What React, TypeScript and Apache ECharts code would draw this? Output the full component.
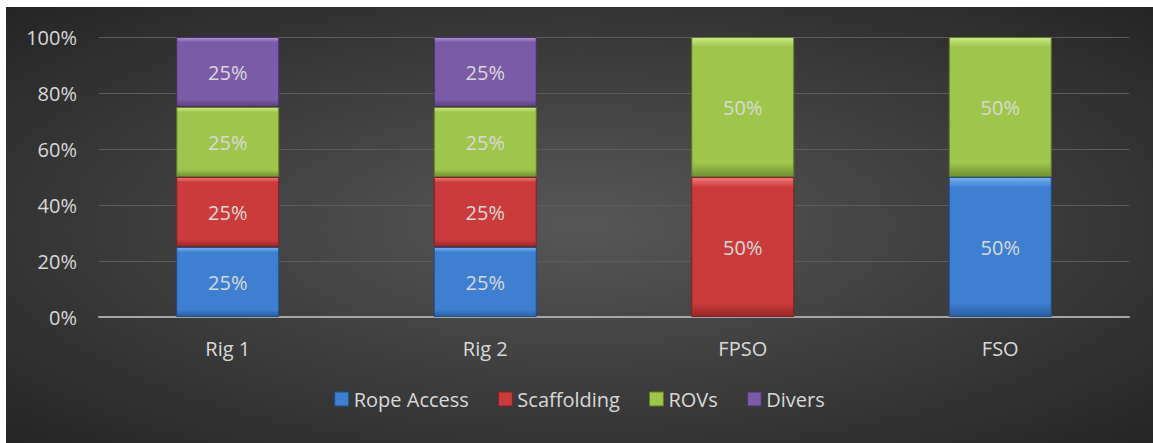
import React, { useEffect, useRef } from "react";
import * as echarts from "echarts";

const categories = ["Rig 1", "Rig 2", "FPSO", "FSO"];
const seriesNames = ["Rope Access", "Scaffolding", "ROVs", "Divers"];
const ropeAccess = [25, 25, 0, 50];
const scaffolding = [25, 25, 50, 0];
const rovs = [25, 25, 50, 50];
const divers = [25, 25, 0, 0];
const yTicks = [0, 20, 40, 60, 80, 100];

const palette = [
  { top: "#7ab2f2", main: "#3d80d2", bottom: "#2b5f9f", border: "#224e86" },
  { top: "#f07c7c", main: "#cc3b3b", bottom: "#982828", border: "#7e2020" },
  { top: "#cdeb88", main: "#9dc64a", bottom: "#729234", border: "#5e7a2a" },
  { top: "#b094d8", main: "#7b5ba8", bottom: "#58407d", border: "#463264" },
];

const FONT = "'Open Sans', 'Liberation Sans', sans-serif";

export default function App() {
  const ref = useRef<HTMLDivElement>(null);
  useEffect(() => {
    if (!ref.current) return;
    const chart = echarts.init(ref.current, undefined, { renderer: "svg" });
    const values = [ropeAccess, scaffolding, rovs, divers];
    const series = seriesNames.map((name, i) => {
      const p = palette[i];
      return {
        name,
        type: "bar",
        stack: "total",
        barWidth: "40%",
        data: values[i].map((v) => (v > 0 ? v : "-")),
        itemStyle: {
          color: new echarts.graphic.LinearGradient(0, 0, 0, 1, [
            { offset: 0, color: p.top },
            { offset: 0.07, color: p.main },
            { offset: 0.9, color: p.main },
            { offset: 1, color: p.bottom },
          ]),
          borderColor: p.border,
          borderWidth: 1,
        },
        label: {
          show: true,
          position: "inside",
          formatter: (d: any) => d.value + "%",
          color: "#d9d9d9",
          fontFamily: FONT,
          fontSize: 20,
        },
      };
    });
    chart.setOption({
      animation: false,
      backgroundColor: {
        type: "radial",
        x: 0.5,
        y: 0.5,
        r: 0.75,
        colorStops: [
          { offset: 0, color: "#575757" },
          { offset: 1, color: "#222222" },
        ],
      },
      grid: { left: 93, right: 24, top: 30, bottom: 126 },
      legend: {
        data: seriesNames.map((n, i) => ({
          name: n,
          itemStyle: { color: palette[i].main, borderColor: palette[i].border, borderWidth: 1 },
        })),
        bottom: 29,
        left: "center",
        icon: "rect",
        itemWidth: 14,
        itemHeight: 14,
        itemGap: 29,
        textStyle: { color: "#d9d9d9", fontFamily: FONT, fontSize: 20 },
      },
      xAxis: {
        type: "category",
        data: categories,
        axisLine: { lineStyle: { color: "#a6a6a6", width: 2 } },
        axisTick: { show: false },
        axisLabel: { color: "#d9d9d9", fontFamily: FONT, fontSize: 20, margin: 21 },
      },
      yAxis: {
        type: "value",
        min: yTicks[0],
        max: yTicks[yTicks.length - 1],
        interval: 20,
        axisLine: { show: false },
        axisTick: { show: false },
        axisLabel: {
          color: "#d9d9d9",
          fontFamily: FONT,
          fontSize: 20,
          margin: 22,
          formatter: (v: number) => v + "%",
        },
        splitLine: { lineStyle: { color: "#5c5c5c", width: 1 } },
      },
      series,
    });
    return () => chart.dispose();
  }, []);
  return (
    <div
      ref={ref}
      style={{ position: "absolute", left: 6, top: 7, width: 1147, height: 436 }}
    />
  );
}
